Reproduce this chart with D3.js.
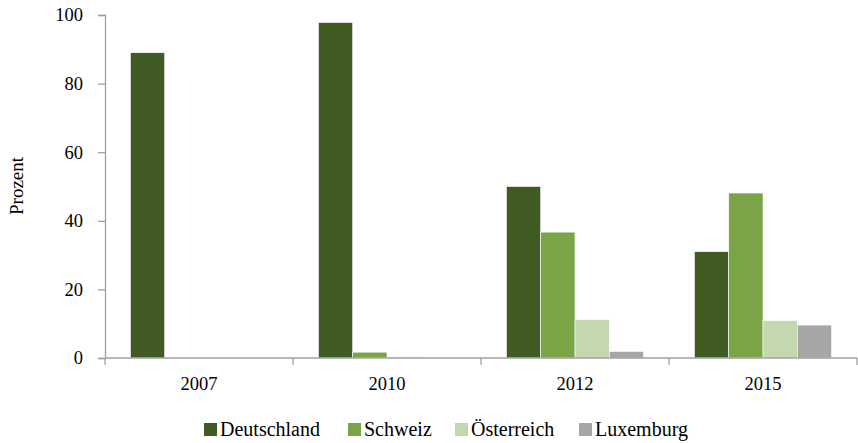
<!DOCTYPE html>
<html>
<head>
<meta charset="utf-8">
<script src="https://cdn.jsdelivr.net/npm/d3@7"></script>
<style>
  body { margin: 0; background: #fff; }
  text { font-family: "Liberation Serif", "DejaVu Serif", serif; fill: #000; }
</style>
</head>
<body>
<svg id="chart" width="858" height="443"></svg>
<script>
// data
const years = ["2007", "2010", "2012", "2015"]
const countries = ["Deutschland", "Schweiz", "Österreich", "Luxemburg"]
const colors = ["#405a23", "#7aa445", "#c3d8ae", "#a6a6a6"]
const deutschland = [89, 97.8, 50, 31]
const schweiz = [0, 1.7, 36.7, 48.1]
const oesterreich = [0, 0.3, 11.2, 10.9]
const luxemburg = [0, 0, 1.9, 9.6]
const yTicks = [0, 20, 40, 60, 80, 100]

const series = [deutschland, schweiz, oesterreich, luxemburg]

const svg = d3.select('#chart')
const plotLeft = 105, plotRight = 857, plotTop = 15, plotBottom = 358

const x = d3.scaleBand().domain(years).range([plotLeft, plotRight])
const x1 = d3.scaleBand().domain(countries).range([0, x.bandwidth()]).paddingOuter(0.74)
const y = d3.scaleLinear().domain([0, 100]).range([plotBottom, plotTop])

// bars
years.forEach((yr, i) => {
  svg.append('g')
    .attr('transform', `translate(${x(yr)},0)`)
    .selectAll('rect')
    .data(countries)
    .join('rect')
    .attr('x', c => x1(c))
    .attr('y', (c, j) => y(series[j][i]))
    .attr('width', x1.bandwidth())
    .attr('height', (c, j) => plotBottom - y(series[j][i]))
    .attr('fill', (c, j) => colors[j])
    .attr('stroke', '#fff')
    .attr('stroke-width', 0.6)
})

// y axis
const yAxis = svg.append('g')
  .attr('transform', `translate(${plotLeft},0)`)
  .call(d3.axisLeft(y).tickValues(yTicks).tickSize(7).tickPadding(15))
yAxis.selectAll('line, path').attr('stroke', '#a0a0a0').attr('stroke-width', 1.3)
yAxis.selectAll('text').style('font-size', '18.5px').attr('font-family', null)

// x axis with ticks at band edges
const xAxis = svg.append('g')
  .attr('transform', `translate(0,${plotBottom})`)
xAxis.append('line')
  .attr('x1', plotLeft).attr('x2', plotRight)
  .attr('stroke', '#a0a0a0').attr('stroke-width', 1.3)
xAxis.selectAll('line.tick')
  .data(years.map(d => x(d)).concat([plotRight]))
  .join('line')
  .attr('class', 'tick')
  .attr('x1', d => d).attr('x2', d => d)
  .attr('y1', 0).attr('y2', 7)
  .attr('stroke', '#a0a0a0').attr('stroke-width', 1.3)
xAxis.selectAll('text')
  .data(years)
  .join('text')
  .attr('x', d => x(d) + x.bandwidth() / 2)
  .attr('y', 32)
  .attr('text-anchor', 'middle')
  .style('font-size', '18.5px')
  .text(d => d)

// y label
svg.append('text')
  .attr('transform', 'translate(23,186) rotate(-90)')
  .attr('text-anchor', 'middle')
  .style('font-size', '19px')
  .text('Prozent')

// legend
const legendX = [204, 348, 455, 579]
const legend = svg.selectAll('g.legend')
  .data(countries)
  .join('g')
  .attr('class', 'legend')
  .attr('transform', (d, i) => `translate(${legendX[i]},423)`)
legend.append('rect')
  .attr('width', 13).attr('height', 13)
  .attr('fill', (d, i) => colors[i])
legend.append('text')
  .attr('x', 16).attr('y', 13)
  .style('font-size', '20px')
  .text(d => d)
</script>
</body>
</html>
